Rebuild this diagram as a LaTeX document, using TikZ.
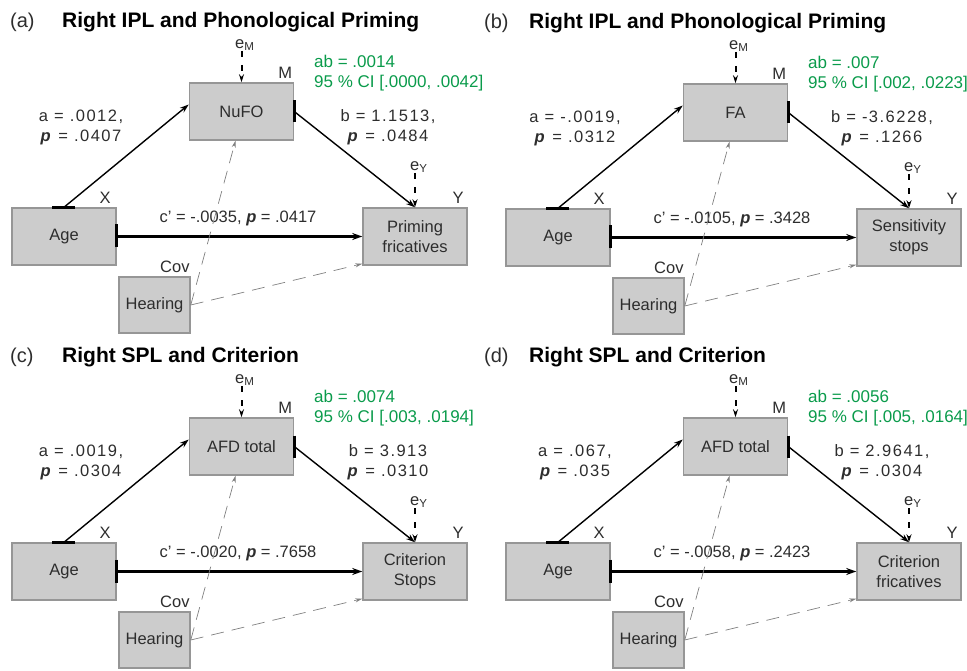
\documentclass[tikz,border=0pt]{standalone}
\usepackage{fontspec}
\setmainfont{Liberation Sans}
\usetikzlibrary{arrows.meta,positioning}

\definecolor{boxfill}{RGB}{204,204,204}
\definecolor{boxline}{RGB}{150,150,150}
\definecolor{txt}{RGB}{45,45,45}
\definecolor{abgreen}{RGB}{10,155,75}
\newcommand{\pval}{\textbf{\textit{p}}}

\begin{document}
\begin{tikzpicture}[x=1pt,y=-1pt,
  every node/.style={font=\fontsize{16.5}{20}\selectfont, text=txt, inner sep=0pt},
  box/.style={draw=boxline, fill=boxfill, line width=1.5pt, minimum width=104pt, minimum height=57pt, align=center},
  coef/.style={align=center, font=\fontsize{16.5}{20}\selectfont\addfontfeatures{LetterSpace=9}},
  tickbar/.style={line width=3pt},
  apath/.style={line width=1.4pt, -{Stealth[length=9pt,width=6pt]}},
  cpath/.style={line width=3pt, -{Stealth[length=10pt,width=7pt]}},
  covpath/.style={draw=gray, line width=0.7pt, dash pattern=on 13pt off 8pt, -{Stealth[length=7pt,width=4pt]}},
  earrow/.style={line width=2pt, dash pattern=on 6pt off 8pt, -{Stealth[length=8pt,width=5pt]}}]
\useasboundingbox (0,0) rectangle (967,671);

\foreach \dx/\dy/\lx/\tx/\lab/\ttl/\mtxt/\ytxt/\av/\ap/\bv/\bp/\cv/\cp/\abv/\civ in {
  0/0/10/62/(a)/Right IPL and Phonological Priming/NuFO/{Priming\\fricatives}/{.0012,}/.0407/{1.1513,}/.0484/-.0035/.0417/.0014/{[.0000, .0042]},
  494/1/-10/35/(b)/Right IPL and Phonological Priming/FA/{Sensitivity\\stops}/{-.0019,}/.0312/{-3.6228,}/.1266/-.0105/.3428/.007/{[.002, .0223]},
  0/335/10/62/(c)/Right SPL and Criterion/AFD total/{Criterion\\Stops}/{.0019,}/.0304/{3.913}/.0310/-.0020/.7658/.0074/{[.003, .0194]},
  494/335/-10/35/(d)/Right SPL and Criterion/AFD total/{Criterion\\fricatives}/{.067,}/.035/{2.9641,}/.0304/-.0058/.2423/.0056/{[.005, .0164]}}
{
\begin{scope}[shift={(\dx,\dy)}]
% heading
\node[anchor=west, font=\fontsize{20}{24}\selectfont] (pan) at (\lx,22) {\lab};
\node[anchor=west, font=\bfseries\fontsize{21}{24}\selectfont, text=black] (head) at (\tx,22) {\ttl};

% boxes
\node[box] (med) at (241.5,111.5) {\mtxt};
\node[box] (age) at (64,236.5) {Age};
\node[box] (out) at (415,236.5) {\ytxt};
\node[box, minimum width=71pt, minimum height=56pt] (cov) at (154.5,305) {Hearing};

% box labels
\node[anchor=south east] (mlab) at ([xshift=-2,yshift=4]med.north east) {M};
\node[anchor=south east] (xlab) at ([xshift=-6,yshift=4]age.north east) {X};
\node[anchor=south east] (ylab) at ([xshift=-4,yshift=4]out.north east) {Y};
\node[anchor=south east] (covlab) at ([xshift=-1,yshift=3]cov.north east) {Cov};
\node[anchor=south west] (em) at (235,51) {e\textsubscript{M}};
\node[anchor=south west] (ey) at (410,173) {e\textsubscript{Y}};

% coefficients
\node[anchor=north west, align=left, text=abgreen, font=\fontsize{17}{20}\selectfont] (stat) at (314,55) {ab = \abv\\95 \% CI \civ};
\node[coef] (alab) at (81,127) {a = \av\\\pval{} = \ap};
\node[coef] (blab) at (388,127) {b = \bv\\\pval{} = \bp};
\node (clab) at (238,218) {c’ = \cv, \pval{} = \cp};

% paths
\draw[earrow] (med.north |- em.south) -- (med.north);
\draw[earrow] (out.north |- ey.south) -- (out.north);
\draw[tickbar] ([xshift=-12]age.north) -- ([xshift=11]age.north);
\draw[apath] (age.north) -- ([yshift=7]med.west);
\draw[tickbar] ([yshift=11]med.east) -- ([yshift=-11]med.east);
\draw[apath] (med.east) -- (out.north);
\draw[tickbar] ([yshift=12]age.east) -- ([yshift=-11]age.east);
\draw[cpath] (age.east) -- (out.west);
\draw[covpath] (cov.east) -- ([xshift=-6]med.south);
\draw[covpath] (cov.east) -- ([yshift=2]out.south west);
\end{scope}
}
\end{tikzpicture}
\end{document}
